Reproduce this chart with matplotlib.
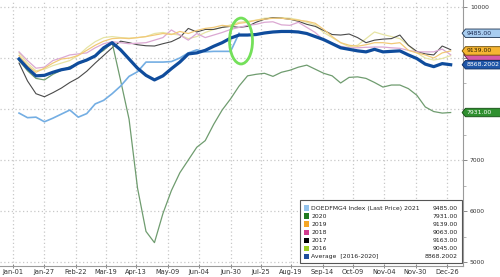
import numpy as np
import pandas as pd
import matplotlib
matplotlib.use("Agg")
import matplotlib.pyplot as plt
from matplotlib.path import Path
from matplotlib.patches import Ellipse, Rectangle, Polygon
import matplotlib.transforms as mtransforms
from matplotlib import font_manager

# ---------------- data ----------------
week_dates = pd.date_range("2021-01-06", periods=52, freq="7D")
tick_labels = ["Jan-01", "Jan-27", "Feb-22", "Mar-19", "Apr-13", "May-09", "Jun-04",
               "Jun-30", "Jul-25", "Aug-19", "Sep-14", "Oct-09", "Nov-04", "Nov-30", "Dec-26"]

y2021 = [7920, 7830, 7840, 7750, 7820, 7900, 7980, 7840, 7910, 8100, 8170, 8300, 8450,
         8640, 8730, 8920, 8920, 8920, 8930, 9000, 9100, 9160, 9120, 9130, 9130, 9130, 9485]
y2020 = [8950, 8750, 8600, 8570, 8680, 8760, 8830, 8890, 8950, 9050, 9150, 9300, 8560,
         7800, 6450, 5600, 5380, 5950, 6400, 6750, 7000, 7250, 7380, 7700, 7980, 8200,
         8450, 8650, 8680, 8700, 8640, 8720, 8760, 8820, 8860, 8780, 8700, 8650, 8510,
         8620, 8630, 8600, 8520, 8430, 8470, 8470, 8400, 8270, 8040, 7950, 7920, 7931]
y2019 = [9050, 8850, 8720, 8800, 8900, 8980, 9000, 9050, 9150, 9250, 9330, 9380, 9390,
         9380, 9400, 9420, 9450, 9480, 9460, 9520, 9480, 9540, 9580, 9600, 9640, 9620,
         9680, 9700, 9740, 9760, 9780, 9780, 9760, 9740, 9720, 9680, 9560, 9420, 9300,
         9250, 9230, 9260, 9300, 9300, 9280, 9300, 9150, 9100, 9060, 9000, 9100, 9139]
y2018 = [9120, 8950, 8800, 8820, 8950, 9000, 9060, 9080, 9100, 9200, 9280, 9320, 9300,
         9280, 9290, 9300, 9350, 9400, 9550, 9450, 9350, 9480, 9400, 9450, 9500, 9560,
         9600, 9640, 9660, 9700, 9710, 9650, 9640, 9700, 9600, 9500, 9350, 9290, 9230,
         9200, 9200, 9210, 9215, 9215, 9200, 9190, 9150, 9120, 9120, 9120, 9175, 9063]
y2017 = [8900, 8550, 8300, 8240, 8320, 8410, 8520, 8610, 8740, 8900, 9050, 9200, 9330,
         9300, 9260, 9240, 9235, 9280, 9320, 9400, 9580, 9510, 9560, 9560, 9600, 9620,
         9600, 9620, 9700, 9760, 9790, 9780, 9760, 9720, 9660, 9620, 9540, 9460, 9450,
         9470, 9400, 9300, 9350, 9370, 9380, 9450, 9250, 9130, 9080, 9060, 9235, 9163]
y2016 = [9100, 8900, 8750, 8780, 8850, 8900, 8950, 9050, 9200, 9320, 9400, 9420, 9400,
         9390, 9400, 9420, 9480, 9500, 9470, 9450, 9380, 9420, 9500, 9560, 9600, 9650,
         9700, 9720, 9740, 9780, 9790, 9790, 9780, 9750, 9700, 9650, 9500, 9400, 9300,
         9220, 9250, 9380, 9510, 9460, 9420, 9380, 9250, 9100, 9000, 8960, 8990, 9045]
yavg = [8980, 8800, 8650, 8660, 8720, 8770, 8800, 8900, 8960, 9040, 9200, 9300, 9160,
        8980, 8800, 8660, 8570, 8650, 8790, 8920, 9080, 9100, 9150, 9230, 9300, 9390,
        9450, 9450, 9460, 9490, 9510, 9520, 9520, 9510, 9480, 9420, 9360, 9280, 9200,
        9170, 9140, 9120, 9170, 9120, 9130, 9140, 9060, 8990, 8880, 8830, 8890, 8868.2002]

legend_names = ["DOEDFMG4 Index (Last Price) 2021", "2020", "2019", "2018", "2017", "2016",
                "Average  [2016-2020]"]
legend_values = ["9485.00", "7931.00", "9139.00", "9063.00", "9163.00", "9045.00", "8868.2002"]

y_ticks = [5000, 6000, 7000, 8000, 9000, 10000]
y_tick_labels = ["5000", "6000", "7000", "", "", "10000"]  # 8000/9000 hidden under value tags

# ---------------- style ----------------
c_avg = "#0f4c9c"
c_2021 = "#74aee3"
c_2020 = "#6f9c6f"
c_2019 = "#f2c977"
c_2018 = "#dba8d2"
c_2017 = "#4a4a4a"
c_2016 = "#e6e4a4"
legend_colors = ["#93c2ec", "#1f7a1f", "#f5a623", "#d13a8f", "#000000", "#9ccc1f", "#1f4e9c"]

names = {f.name for f in font_manager.fontManager.ttflist}
if "Liberation Sans Narrow" in names:
    FAM = ["Liberation Sans Narrow", "DejaVu Sans"]
    scale = 1.0
else:
    FAM = ["DejaVu Sans"]
    scale = 0.8
plt.rcParams["font.family"] = FAM

start = pd.Timestamp("2021-01-01")
x = np.asarray((week_dates - start).days, dtype=float)
tick_pos = [(pd.to_datetime("2021-" + t, format="%Y-%b-%d") - start).days for t in tick_labels]

fig = plt.figure(figsize=(5.0, 2.77), dpi=100)
ax = fig.add_axes([0.0, 0.0397, 0.926, 0.9603])

ax.plot(x, y2016, color=c_2016, lw=0.9, zorder=3)
ax.plot(x, y2017, color=c_2017, lw=0.8, zorder=3)
ax.plot(x, y2018, color=c_2018, lw=0.9, zorder=3)
ax.plot(x, y2019, color=c_2019, lw=0.9, zorder=3)
ax.plot(x, y2020, color=c_2020, lw=0.9, zorder=4)
ax.plot(x[:len(y2021)], y2021, color=c_2021, lw=1.2, zorder=5)
ax.plot(x, yavg, color=c_avg, lw=2.3, zorder=6, solid_joinstyle="round")

ax.set_xlim(-10.75, 372.2)
ax.set_ylim(4922, 10137)

# grid / ticks
ax.set_xticks(tick_pos)
ax.set_xticklabels(tick_labels)
ax.set_yticks(y_ticks)
ax.set_yticklabels(y_tick_labels)
ax.set_yticks([5500, 6500, 7500, 8500, 9500], minor=True)
ax.grid(True, which="major", color="#c8c8c8", linestyle=(0, (1, 2)), lw=0.9)
ax.yaxis.tick_right()
for s in ["left", "top"]:
    ax.spines[s].set_visible(False)
ax.spines["right"].set_color("#9a9a9a")
ax.spines["bottom"].set_color("#9a9a9a")
ax.spines["right"].set_linewidth(0.8)
ax.spines["bottom"].set_linewidth(0.8)
ax.tick_params(axis="y", which="major", length=3, width=0.6, colors="#777777",
               labelcolor="#333333", labelsize=6.6 * scale * 0.82, pad=2)
ax.tick_params(axis="y", which="minor", length=2, width=0.5, colors="#999999")
ax.tick_params(axis="x", length=2.5, width=0.6, colors="#777777", labelcolor="#333333",
               labelsize=6.6 * scale * 0.9, pad=1, direction="inout")

# green ellipse highlight
ell = Ellipse((188.6, 9333), width=19, height=900, fill=False, edgecolor="#74e05a",
              lw=2.0, zorder=8)
ax.add_patch(ell)


# value tags on the right axis
def tag_shape(x0, y0, w, h, mut):
    padx = 0.2 * mut
    pady = 0.28 * mut
    x0, y0, w, h = x0 - padx, y0 - pady, w + 2 * padx + 10, h + 2 * pady
    tip = h * 0.4
    verts = [(x0, y0), (x0 + w, y0), (x0 + w, y0 + h), (x0, y0 + h),
             (x0 - tip, y0 + h / 2), (x0, y0)]
    codes = [Path.MOVETO, Path.LINETO, Path.LINETO, Path.LINETO, Path.LINETO, Path.CLOSEPOLY]
    return Path(verts, codes)


trans = mtransforms.blended_transform_factory(ax.transAxes, ax.transData)

# pink 2018 tag mostly hidden behind the others
ax.add_patch(Polygon([(1.002, 9063), (1.012, 9170), (1.09, 9170), (1.09, 8956), (1.012, 8956)],
                     closed=True, transform=trans, facecolor="#d65aa8", edgecolor="#5a1a40",
                     lw=0.6, zorder=9, clip_on=False))

tags = [
    (9485, "9485.00", "#a8cdf0", "#1c3250", "#1c2a50", 10),
    (9139, "9139.00", "#f6b533", "#6a4a00", "#2a2000", 11),
    (8868.2002, "8868.2002", "#1f56a8", "#0a2a60", "#ffffff", 12),
    (7931, "7931.00", "#2f8f2f", "#104a10", "#ffffff", 12),
]
for val, txt, fc, ec, tc, z in tags:
    ax.text(1.008, val, txt, transform=trans, ha="left", va="center",
            fontsize=6.8 * scale * 0.82, color=tc, zorder=z, clip_on=False,
            bbox=dict(boxstyle=tag_shape, fc=fc, ec=ec, lw=0.6))

# legend box
lx0, lx1 = 0.648, 0.997
ly0, ly1 = 0.011, 0.248
ax.add_patch(Rectangle((lx0, ly0), lx1 - lx0, ly1 - ly0, transform=ax.transAxes,
                       facecolor="white", edgecolor="#555555", lw=0.8, zorder=20))
row_top = 0.218
row_step = 0.0305
for k, (nm, vv, cc) in enumerate(zip(legend_names, legend_values, legend_colors)):
    yy = row_top - k * row_step
    ax.add_patch(Rectangle((0.656, yy - 0.0105), 0.0105, 0.021, transform=ax.transAxes,
                           facecolor=cc, edgecolor="none", zorder=21))
    ax.text(0.672, yy, nm, transform=ax.transAxes, ha="left", va="center",
            fontsize=6.2 * scale * 0.9, color="#222222", zorder=22)
    ax.text(0.988, yy, vv, transform=ax.transAxes, ha="right", va="center",
            fontsize=6.2 * scale * 0.9, color="#222222", zorder=22)

fig.savefig("out.png", dpi=100)
